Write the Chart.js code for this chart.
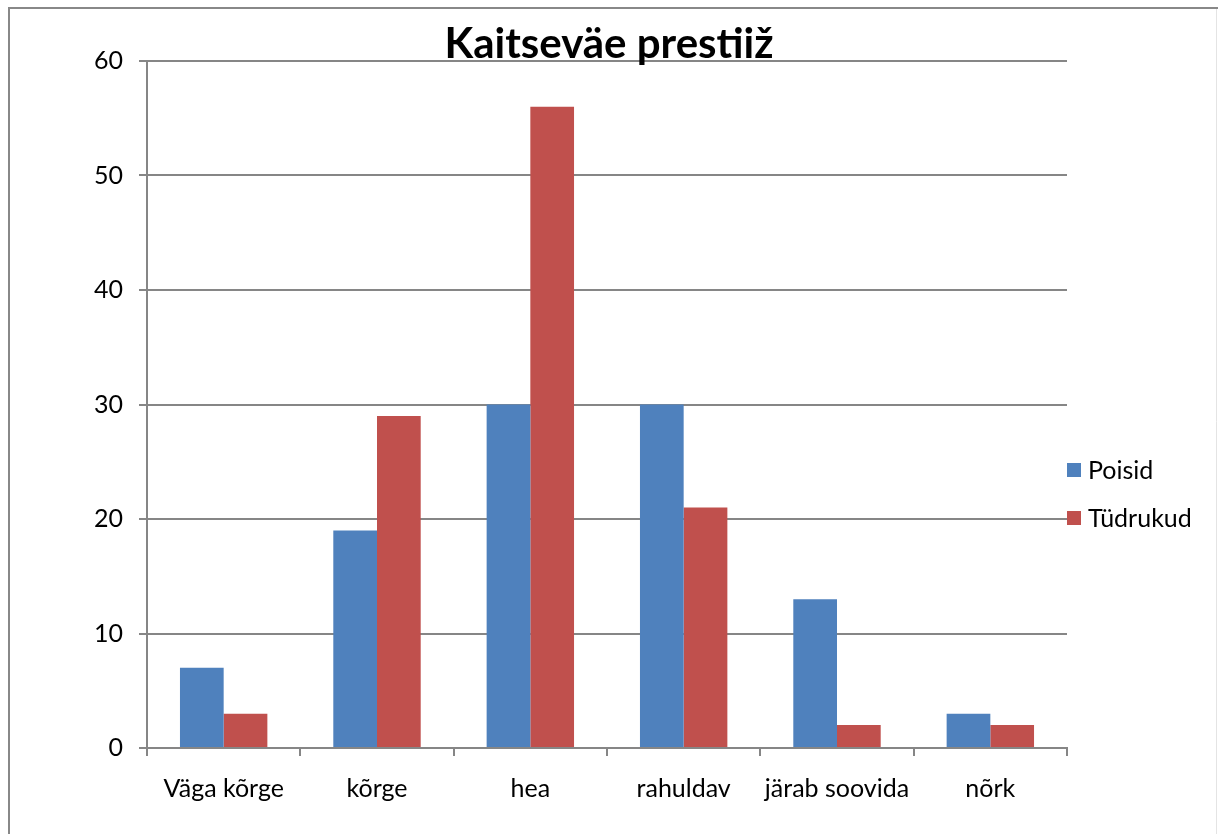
<!DOCTYPE html>
<html>
<head>
<meta charset="utf-8">
<script src="https://cdn.jsdelivr.net/npm/chart.js@4/dist/chart.umd.min.js"></script>
<style>
  html, body { margin: 0; padding: 0; background: #fff; }
  #wrap { width: 1218px; height: 834px; }
</style>
</head>
<body>
<div id="wrap"><canvas id="prestige"></canvas></div>
<script>
// data
const categories = ['Väga kõrge', 'kõrge', 'hea', 'rahuldav', 'järab soovida', 'nõrk'];
const poisid = [7, 19, 30, 30, 13, 3];
const tudrukud = [3, 29, 56, 21, 2, 2];
const seriesNames = ['Poisid', 'Tüdrukud'];
const seriesColors = ['#4F81BD', '#C0504D'];
const chartTitle = 'Kaitseväe prestiiž';

const gridColor = '#868686';
const fontFamily = 'Lato, "Open Sans", sans-serif';

// frame, title and legend drawn by hand (the Excel layout lets the title overlap the plot)
const decorPlugin = {
    id: 'decor',
    beforeDraw(chart) {
        const ctx = chart.ctx;
        ctx.save();
        ctx.fillStyle = '#fff';
        ctx.fillRect(0, 0, chart.width, chart.height);
        ctx.strokeStyle = '#888';
        ctx.lineWidth = 2;
        ctx.beginPath();
        ctx.moveTo(9, chart.height);
        ctx.lineTo(9, 8);
        ctx.lineTo(chart.width, 8);
        ctx.stroke();
        ctx.strokeStyle = '#e4e4e4';
        ctx.lineWidth = 1;
        ctx.beginPath();
        ctx.moveTo(chart.width - 1.5, 9);
        ctx.lineTo(chart.width - 1.5, chart.height);
        ctx.stroke();
        ctx.restore();
    },
    afterDraw(chart) {
        const ctx = chart.ctx;
        const area = chart.chartArea;
        ctx.save();
        ctx.fillStyle = '#000';
        ctx.font = 'bold 42px ' + fontFamily;
        ctx.textAlign = 'center';
        ctx.textBaseline = 'middle';
        ctx.fillText(chartTitle, 609, 44);

        // legend
        ctx.font = '25px ' + fontFamily;
        ctx.textAlign = 'left';
        chart.data.datasets.forEach((ds, i) => {
            const y = 470 + i * 48;
            ctx.fillStyle = ds.backgroundColor;
            ctx.fillRect(area.right, y - 7, 14, 14);
            ctx.fillStyle = '#000';
            ctx.fillText(ds.label, area.right + 21, y + 1);
        });
        ctx.restore();
    }
};

new Chart(document.getElementById('prestige'), {
    type: 'bar',
    data: {
        labels: categories,
        datasets: [
            { label: seriesNames[0], data: poisid, backgroundColor: seriesColors[0] },
            { label: seriesNames[1], data: tudrukud, backgroundColor: seriesColors[1] }
        ]
    },
    options: {
        responsive: true,
        maintainAspectRatio: false,
        animation: false,
        devicePixelRatio: 1,
        layout: { padding: { left: 0, top: 61, right: 151, bottom: 0 } },
        datasets: {
            bar: { categoryPercentage: 0.57, barPercentage: 1.0 }
        },
        plugins: {
            legend: { display: false },
            title: { display: false },
            tooltip: { enabled: false }
        },
        scales: {
            x: {
                grid: { drawOnChartArea: false, offset: true, tickLength: 8, color: gridColor, lineWidth: 2 },
                border: { color: gridColor, width: 2 },
                ticks: { color: '#000', padding: 18, font: { family: fontFamily, size: 25 } },
                afterFit(scale) { scale.height = 86; }
            },
            y: {
                min: 0,
                max: 60,
                ticks: { stepSize: 10, color: '#000', padding: 16, font: { family: fontFamily, size: 25 } },
                grid: { color: gridColor, lineWidth: 2, tickLength: 8 },
                border: { color: gridColor, width: 2 },
                afterFit(scale) { scale.width = 147; }
            }
        }
    },
    plugins: [decorPlugin]
});
</script>
</body>
</html>
